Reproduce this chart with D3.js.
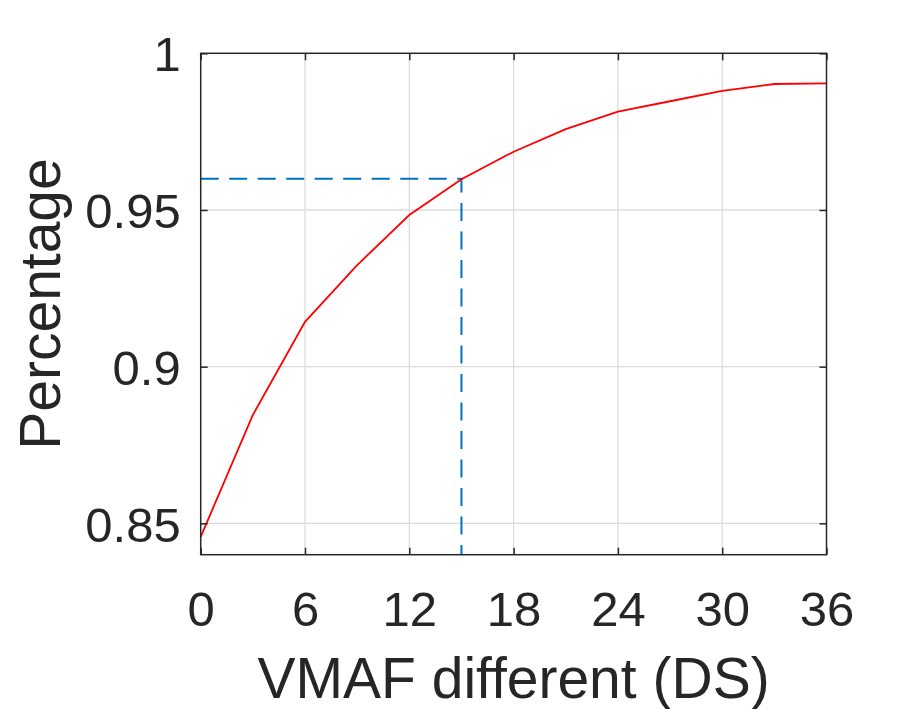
<!DOCTYPE html>
<html>
<head>
<meta charset="utf-8">
<script src="https://cdn.jsdelivr.net/npm/d3@7"></script>
<style>
	body { margin: 0; background: #fff; }
	svg { display: block; }
	text { font-family: "Liberation Sans", Arial, Helvetica, sans-serif; fill: #262626; }
</style>
</head>
<body>
<svg id="chart" width="913" height="709"></svg>
<script>

var diffValues = [0, 3, 6, 9, 12, 15, 18, 21, 24, 27, 30, 33, 36];
var percentValues = [0.8457, 0.8846, 0.9143, 0.9324, 0.9484, 0.9598, 0.9686, 0.9758, 0.9814, 0.9847, 0.988, 0.9902, 0.9904];
var xTicks = [0, 6, 12, 18, 24, 30, 36];
var yTicks = [0.85, 0.9, 0.95, 1];
var markerPoint = [15, 0.96];

var margin = {left: 200.7, top: 53.3, right: 913 - 826.5, bottom: 709 - 554.7};
var width = 913 - margin.left - margin.right;
var height = 709 - margin.top - margin.bottom;

var svg = d3.select("#chart");
var g = svg.append("g")
	.attr("transform", "translate(" + margin.left + "," + margin.top + ")");

var x = d3.scaleLinear().domain([0, 36]).range([0, width]);
var y = d3.scaleLinear().domain([0.84, 1]).range([height, 0]);

// grid
g.append("g")
	.selectAll("line")
	.data(xTicks.slice(1, -1))
	.enter().append("line")
	.attr("x1", function(d) { return x(d); })
	.attr("x2", function(d) { return x(d); })
	.attr("y1", 0)
	.attr("y2", height)
	.attr("stroke", "#dcdcdc")
	.attr("stroke-width", 1.3);

g.append("g")
	.selectAll("line")
	.data(yTicks.slice(0, -1))
	.enter().append("line")
	.attr("x1", 0)
	.attr("x2", width)
	.attr("y1", function(d) { return y(d); })
	.attr("y2", function(d) { return y(d); })
	.attr("stroke", "#dcdcdc")
	.attr("stroke-width", 1.3);

// dashed guide
g.append("path")
	.attr("d", d3.line()([
		[x(0), y(markerPoint[1])],
		[x(markerPoint[0]), y(markerPoint[1])],
		[x(markerPoint[0]), y(0.84)]
	]))
	.attr("fill", "none")
	.attr("stroke", "#0072BD")
	.attr("stroke-width", 2)
	.attr("stroke-dasharray", "18,10.5");

// curve
var line = d3.line()
	.x(function(d, i) { return x(diffValues[i]); })
	.y(function(d) { return y(d); });

g.append("path")
	.datum(percentValues)
	.attr("d", line)
	.attr("fill", "none")
	.attr("stroke", "#ff0000")
	.attr("stroke-width", 1.8);

// axes
var xAxis = d3.axisBottom(x).tickValues(xTicks).tickSize(-7).tickPadding(22)
	.tickFormat(d3.format("d"));
var yAxis = d3.axisLeft(y).tickValues(yTicks).tickSize(-7).tickPadding(20)
	.tickFormat(function(d) { return d === 1 ? "1" : d3.format("")(d); });

function styleAxis(sel) {
	sel.select(".domain").remove();
	sel.selectAll(".tick line").attr("stroke", "#262626").attr("stroke-width", 1.5);
	sel.selectAll(".tick text").attr("font-size", 49).attr("fill", "#262626");
}

g.append("g").attr("transform", "translate(0," + height + ")").call(xAxis).call(styleAxis)
	.selectAll(".tick text").attr("dy", null).attr("y", 71);
g.append("g").call(yAxis).call(styleAxis)
	.selectAll(".tick text").attr("dy", "0.36em");

g.append("g").call(d3.axisTop(x).tickValues(xTicks).tickSize(-7).tickFormat(""))
	.call(styleAxis);
g.append("g").attr("transform", "translate(" + width + ",0)")
	.call(d3.axisRight(y).tickValues(yTicks).tickSize(-7).tickFormat(""))
	.call(styleAxis);

g.append("rect")
	.attr("width", width)
	.attr("height", height)
	.attr("fill", "none")
	.attr("stroke", "#262626")
	.attr("stroke-width", 1.5);

// labels
svg.append("text")
	.attr("x", margin.left + width / 2)
	.attr("y", 698)
	.attr("text-anchor", "middle")
	.attr("font-size", 57)
	.text("VMAF different (DS)");

svg.append("text")
	.attr("transform", "translate(60," + (margin.top + height / 2) + ") rotate(-90)")
	.attr("text-anchor", "middle")
	.attr("font-size", 57)
	.text("Percentage");

</script>
</body>
</html>
